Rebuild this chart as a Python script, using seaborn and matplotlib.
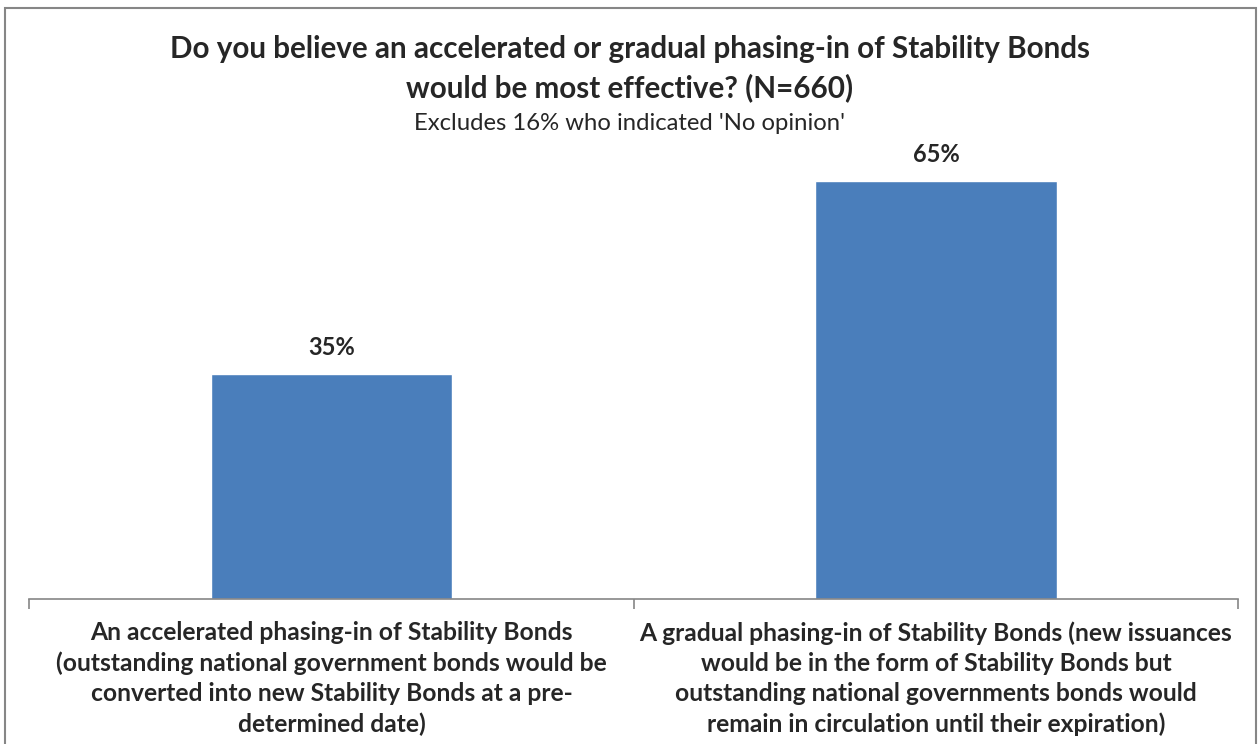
import matplotlib
matplotlib.use("Agg")
import matplotlib.pyplot as plt
import seaborn as sns
import pandas as pd
from matplotlib.patches import Rectangle

# --- data ---
categories = [
    "An accelerated phasing-in of Stability Bonds\n(outstanding national government bonds would be\nconverted into new Stability Bonds at a pre-\ndetermined date)",
    "A gradual phasing-in of Stability Bonds (new issuances\nwould be in the form of Stability Bonds but\noutstanding national governments bonds would\nremain in circulation until their expiration)",
]
shares = [35, 65]
value_labels = ["35%", "65%"]

df = pd.DataFrame({"option": categories, "share": shares})

sns.set_style("white")
plt.rcParams["font.family"] = ["Lato", "DejaVu Sans"]

fig = plt.figure(figsize=(12.59, 7.44), dpi=100)
ax = fig.add_axes([0.0234, 1 - 599 / 744, 0.96, (599 - 150) / 744])

sns.barplot(data=df, x="option", y="share", color="#4A7EBB", width=0.4,
            saturation=1, ax=ax)

ax.set_xlim(-0.5, 1.5)
ax.set_ylim(0, 449 / 6.43)

# value labels above bars
for i, v in enumerate(shares):
    ax.annotate(value_labels[i], (i, v), xytext=(0, 11), textcoords="offset points",
                ha="center", va="bottom", fontsize=17, fontweight="bold")

# axis styling (Excel-like)
for s in ["top", "right", "left"]:
    ax.spines[s].set_visible(False)
ax.spines["bottom"].set_color("#868686")
ax.spines["bottom"].set_linewidth(1.2)
ax.set_yticks([])
ax.set_xlabel("")
ax.set_ylabel("")
ax.tick_params(axis="x", which="major", length=0, pad=16)
ax.set_xticks([-0.5, 0.5, 1.5], minor=True)
ax.tick_params(axis="x", which="minor", bottom=True, length=7, color="#868686",
               width=1.2, direction="out")
for lbl in ax.get_xticklabels():
    lbl.set_fontsize(17.7)
    lbl.set_fontweight("bold")
    lbl.set_linespacing(1.37)
    lbl.set_ha("center")
    lbl.set_va("top")

# titles
fig.text(0.5, 1 - 49 / 744, "Do you believe an accelerated or gradual phasing-in of Stability Bonds",
         ha="center", va="center", fontsize=21.3, fontweight="bold")
fig.text(0.5, 1 - 88 / 744, "would be most effective? (N=660)",
         ha="center", va="center", fontsize=21.3, fontweight="bold")
fig.text(0.5, 1 - 123 / 744, "Excludes 16% who indicated 'No opinion'",
         ha="center", va="center", fontsize=17.2)

# outer chart frame
fig.patches.append(Rectangle((5 / 1259, -0.05), 1251 / 1259, 1.05 - 8 / 744,
                             transform=fig.transFigure, fill=False,
                             edgecolor="#868686", linewidth=1.5))

fig.savefig("out.png", dpi=100, facecolor="white")
